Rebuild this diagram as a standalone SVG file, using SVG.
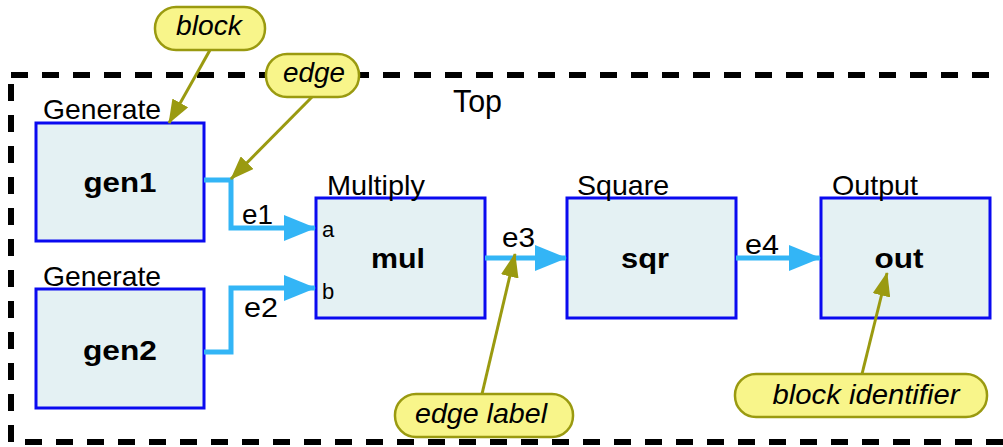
<svg xmlns="http://www.w3.org/2000/svg" width="1003" height="447" viewBox="0 0 1003 447">
<style>
.t{font-family:"Liberation Sans",Arial,sans-serif;fill:#000}
.lbl{font-size:28px}
.id{font-size:28px;font-weight:bold;text-anchor:middle}
.port{font-size:22px}
.ci{font-size:28px;font-style:italic;text-anchor:middle}
.box{fill:#e4f1f3;stroke:#0a0af0;stroke-width:3}
.edge{fill:none;stroke:#33b5f6;stroke-width:5}
.pill{fill:#f8f58a;stroke:#9a9a10;stroke-width:2.5}
.cl{stroke:#9a9a10;stroke-width:3;fill:none}
</style>
<defs>
<marker id="ah" viewBox="0 0 32 26" refX="31" refY="13" markerWidth="32" markerHeight="26" markerUnits="userSpaceOnUse" orient="auto">
<path d="M0,0 L32,13 L0,26 Z" fill="#33b5f6"/>
</marker>
<marker id="oh" viewBox="0 0 24 18" refX="23" refY="9" markerWidth="24" markerHeight="18" markerUnits="userSpaceOnUse" orient="auto">
<path d="M0,0 L24,9 L0,18 Z" fill="#9a9a10"/>
</marker>
</defs>
<rect id="top" x="11" y="75" width="1010" height="367" fill="none" stroke="#000" stroke-width="6" stroke-dasharray="17 14"/>
<text class="t" x="453" y="112" font-size="31" textLength="49" lengthAdjust="spacingAndGlyphs">Top</text>

<g id="gen1">
<rect class="box" x="36" y="123" width="168" height="118"/>
<text class="t lbl" x="43" y="119" textLength="118" lengthAdjust="spacingAndGlyphs">Generate</text>
<text class="t id" x="120" y="192" textLength="73" lengthAdjust="spacingAndGlyphs">gen1</text>
</g>
<g id="gen2">
<rect class="box" x="36" y="289" width="168" height="119"/>
<text class="t lbl" x="43" y="286" textLength="118" lengthAdjust="spacingAndGlyphs">Generate</text>
<text class="t id" x="120" y="360" textLength="74" lengthAdjust="spacingAndGlyphs">gen2</text>
</g>
<g id="mul">
<rect class="box" x="316" y="198" width="169" height="120"/>
<text class="t lbl" x="327" y="195" textLength="98" lengthAdjust="spacingAndGlyphs">Multiply</text>
<text class="t id" x="398" y="268" textLength="54" lengthAdjust="spacingAndGlyphs">mul</text>
<text class="t port" x="322" y="237">a</text>
<text class="t port" x="322" y="299">b</text>
</g>
<g id="sqr">
<rect class="box" x="567" y="198" width="169" height="120"/>
<text class="t lbl" x="577" y="195" textLength="92" lengthAdjust="spacingAndGlyphs">Square</text>
<text class="t id" x="645" y="268" textLength="48" lengthAdjust="spacingAndGlyphs">sqr</text>
</g>
<g id="out">
<rect class="box" x="821" y="198" width="169" height="120"/>
<text class="t lbl" x="832" y="195" textLength="86" lengthAdjust="spacingAndGlyphs">Output</text>
<text class="t id" x="899" y="268" textLength="49" lengthAdjust="spacingAndGlyphs">out</text>
</g>

<g id="connectors">
<path class="edge" d="M204,180 H231 V228 H315" marker-end="url(#ah)"/>
<path class="edge" d="M204,352 H231 V288 H315" marker-end="url(#ah)"/>
<path class="edge" d="M485,258 H566" marker-end="url(#ah)"/>
<path class="edge" d="M736,258 H820" marker-end="url(#ah)"/>
<text class="t lbl" x="242" y="224" textLength="31" lengthAdjust="spacingAndGlyphs">e1</text>
<text class="t lbl" x="244" y="317" textLength="34" lengthAdjust="spacingAndGlyphs">e2</text>
<text class="t lbl" x="502" y="247" textLength="33" lengthAdjust="spacingAndGlyphs">e3</text>
<text class="t lbl" x="745" y="254" textLength="34" lengthAdjust="spacingAndGlyphs">e4</text>
</g>

<g id="callouts">
<line class="cl" x1="210" y1="50" x2="169" y2="123" marker-end="url(#oh)"/>
<line class="cl" x1="312" y1="97" x2="231" y2="179" marker-end="url(#oh)"/>
<line class="cl" x1="482" y1="394" x2="515" y2="254" marker-end="url(#oh)"/>
<line class="cl" x1="862" y1="374" x2="887" y2="273" marker-end="url(#oh)"/>
<g id="c-block">
<rect class="pill" x="155" y="7" width="110" height="43" rx="21"/>
<text class="t ci" x="209" y="35" textLength="66" lengthAdjust="spacingAndGlyphs">block</text>
</g>
<g id="c-edge">
<rect class="pill" x="266" y="54" width="93" height="43" rx="21"/>
<text class="t ci" x="314" y="82" textLength="62" lengthAdjust="spacingAndGlyphs">edge</text>
</g>
<g id="c-edgelabel">
<rect class="pill" x="395" y="394" width="178" height="43" rx="21"/>
<text class="t ci" x="481" y="423" textLength="132" lengthAdjust="spacingAndGlyphs">edge label</text>
</g>
<g id="c-blockid">
<rect class="pill" x="735" y="374" width="252" height="43" rx="21"/>
<text class="t ci" x="866" y="404" textLength="187" lengthAdjust="spacingAndGlyphs">block identifier</text>
</g>
</g>
</svg>
